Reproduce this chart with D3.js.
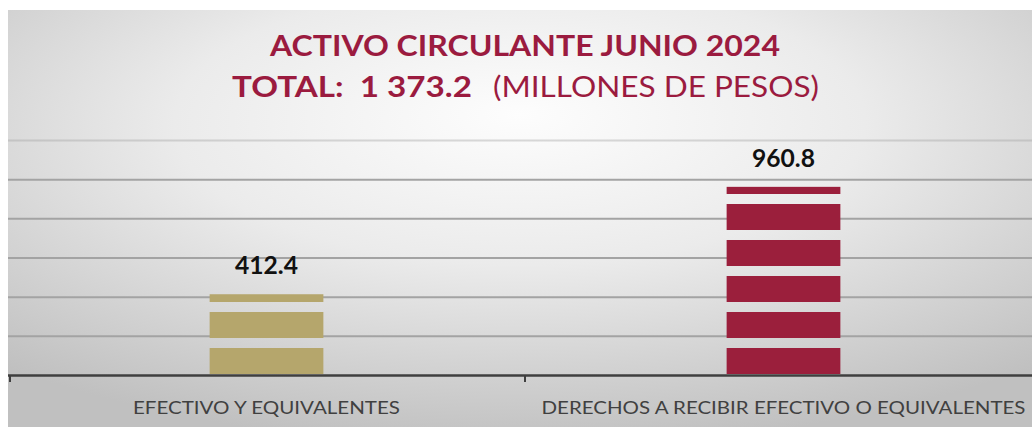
<!DOCTYPE html>
<html>
<head>
<meta charset="utf-8">
<script src="https://cdn.jsdelivr.net/npm/d3@7"></script>
<style>
  html, body { margin: 0; padding: 0; background: #ffffff; }
  svg { display: block; }
</style>
</head>
<body>
<svg id="chart" width="1032" height="427"></svg>
<script>
// ---- data ----
const categories = ["EFECTIVO Y EQUIVALENTES", "DERECHOS A RECIBIR EFECTIVO O EQUIVALENTES"];
const values = [412.4, 960.8];
const valueLabels = ["412.4", "960.8"];
const colors = ["#b5a66c", "#9b1f3c"];
const yTicks = [200, 400, 600, 800, 1000, 1200];
const titleLine1 = "ACTIVO CIRCULANTE JUNIO 2024";
const titleBold = "TOTAL:  1 373.2";
const titleRegular = "(MILLONES DE PESOS)";

// ---- layout ----
const W = 1032, H = 427;
const svg = d3.select("#chart");
const defs = svg.append("defs");

const grad = defs.append("radialGradient")
  .attr("id", "bg").attr("cx", "50%").attr("cy", "30%").attr("r", "75%")
  .attr("fx", "50%").attr("fy", "25%");
grad.append("stop").attr("offset", "0%").attr("stop-color", "#fdfdfd");
grad.append("stop").attr("offset", "45%").attr("stop-color", "#ebebeb");
grad.append("stop").attr("offset", "100%").attr("stop-color", "#c0c0c0");

svg.append("rect").attr("x", 8).attr("y", 10).attr("width", W - 8).attr("height", H - 10)
  .attr("fill", "url(#bg)");

const y = d3.scaleLinear().domain([0, 1200]).range([375, 140]);
const x = d3.scaleBand().domain(categories).range([8, 1042])
  .paddingInner(0.78).paddingOuter(0.39);

// stripe patterns
colors.forEach((c, i) => {
  const p = defs.append("pattern")
    .attr("id", "stripe" + i)
    .attr("patternUnits", "userSpaceOnUse")
    .attr("x", 0).attr("y", y(0) - 37)
    .attr("width", 20).attr("height", 36);
  p.append("rect").attr("x", 0).attr("y", 10).attr("width", 20).attr("height", 26).attr("fill", c);
});

// gridlines
const grid = svg.append("g").attr("transform", "translate(8,0)")
  .call(d3.axisLeft(y).tickValues(yTicks).tickSize(-(W - 8)).tickFormat(""));
grid.select(".domain").remove();
grid.selectAll(".tick line")
  .attr("stroke", "#a3a3a3").attr("stroke-width", 2)
  .attr("stroke-opacity", d => d === 1200 ? 0.4 : 1);

// bars
svg.append("g").selectAll("rect").data(values).join("rect")
  .attr("x", (d, i) => x(categories[i]))
  .attr("width", x.bandwidth())
  .attr("y", d => y(d))
  .attr("height", d => y(0) - y(d))
  .attr("fill", (d, i) => "url(#stripe" + i + ")");

// value labels
svg.append("g").selectAll("text").data(values).join("text")
  .attr("x", (d, i) => x(categories[i]) + x.bandwidth() / 2)
  .attr("y", d => y(d) - 20)
  .attr("text-anchor", "middle")
  .attr("font-family", "Lato, 'Open Sans', sans-serif")
  .attr("font-weight", "bold")
  .attr("font-size", 25)
  .attr("fill", "#111111")
  .attr("textLength", 63).attr("lengthAdjust", "spacingAndGlyphs")
  .text((d, i) => valueLabels[i]);

// x axis
const step = x.step();
const boundaries = [8 + 2, x(categories[0]) - x.paddingOuter() * step + step, 1042];
svg.append("line").attr("x1", 8).attr("x2", W).attr("y1", y(0) + 0.5).attr("y2", y(0) + 0.5)
  .attr("stroke", "#3f3f3f").attr("stroke-width", 2.5);
svg.append("g").selectAll("line").data(boundaries).join("line")
  .attr("x1", d => d).attr("x2", d => d)
  .attr("y1", y(0)).attr("y2", y(0) + 7)
  .attr("stroke", "#3f3f3f").attr("stroke-width", 2);

const labelLens = [267, 484];
svg.append("g").selectAll("text").data(categories).join("text")
  .attr("x", d => x(d) + x.bandwidth() / 2)
  .attr("y", 414)
  .attr("text-anchor", "middle")
  .attr("font-family", "Lato, 'Open Sans', sans-serif")
  .attr("font-size", 18)
  .attr("fill", "#404040")
  .attr("textLength", (d, i) => labelLens[i]).attr("lengthAdjust", "spacingAndGlyphs")
  .text(d => d);

// title
const titleColor = "#9b1b3f";
svg.append("text")
  .attr("x", 525).attr("y", 56)
  .attr("text-anchor", "middle")
  .attr("font-family", "Lato, 'Open Sans', sans-serif")
  .attr("font-weight", "bold").attr("font-size", 28)
  .attr("fill", titleColor)
  .attr("textLength", 510).attr("lengthAdjust", "spacingAndGlyphs")
  .text(titleLine1);

svg.append("text")
  .attr("x", 232).attr("y", 97)
  .attr("font-family", "Lato, 'Open Sans', sans-serif")
  .attr("font-weight", "bold").attr("font-size", 28)
  .attr("fill", titleColor)
  .attr("textLength", 240).attr("lengthAdjust", "spacingAndGlyphs")
  .style("white-space", "pre")
  .text(titleBold);

svg.append("text")
  .attr("x", 493).attr("y", 97)
  .attr("font-family", "Lato, 'Open Sans', sans-serif")
  .attr("font-size", 28)
  .attr("fill", titleColor)
  .attr("textLength", 326).attr("lengthAdjust", "spacingAndGlyphs")
  .text(titleRegular);
</script>
</body>
</html>
